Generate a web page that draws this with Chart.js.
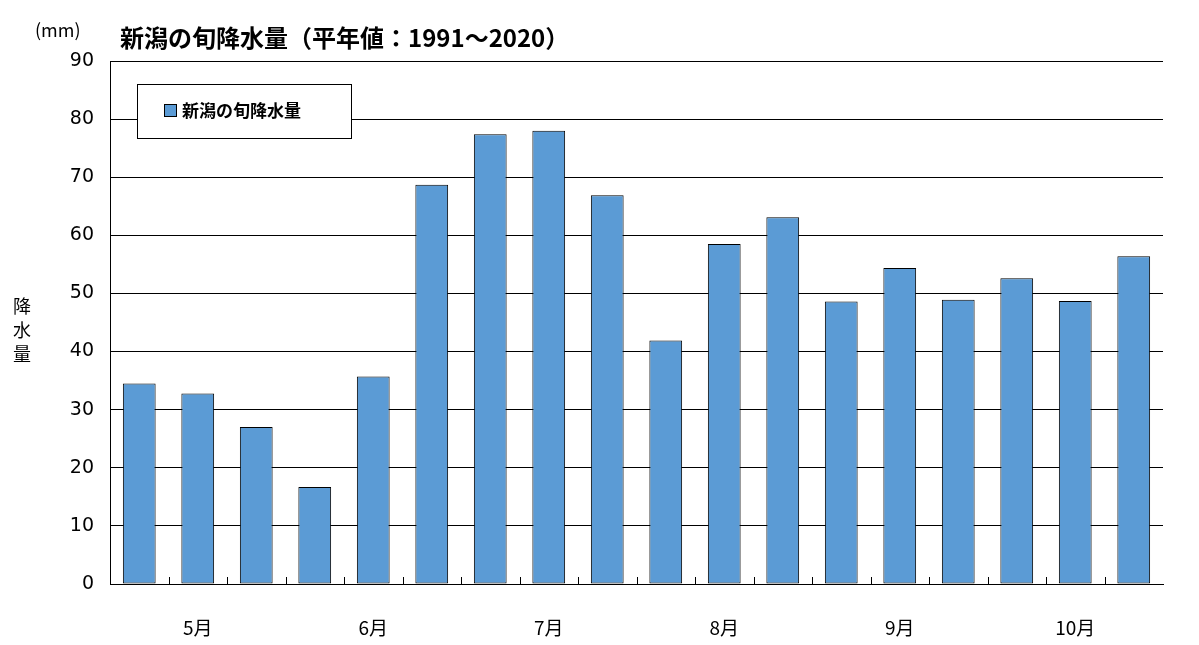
<!DOCTYPE html>
<html lang="ja">
  <head>
    <meta charset="UTF-8" />
    <title>新潟の旬降水量</title>
    <script src="https://cdn.jsdelivr.net/npm/chart.js"></script>
    <style>
      body { margin: 0; background: #fff; }
      #wrap { width: 1199px; height: 645px; position: relative; }
    </style>
  </head>
  <body>
    <div id="wrap"><canvas id="grafico"></canvas></div>
    <script>
      const junLabels = ["", "5月", "", "", "6月", "", "", "7月", "", "", "8月", "", "", "9月", "", "", "10月", ""]
      const kousui = [34.5, 32.8, 27.0, 16.7, 35.7, 68.7, 77.4, 78.0, 66.9, 41.9, 58.5, 63.1, 48.6, 54.4, 48.9, 52.6, 48.7, 56.4]
      const seriesName = "新潟の旬降水量"
      const titulo = "新潟の旬降水量（平年値：1991～2020）"

      const jp = '"Noto Sans CJK JP", sans-serif'

      // textos fora da area do grafico + legenda desenhada a mao
      const extras = {
        id: "extras",
        afterDraw(chart) {
          const c = chart.ctx
          const x = chart.scales.x
          const base = chart.chartArea.bottom
          c.save()
          // marcas pequenas entre as barras, para dentro
          c.strokeStyle = "#000"
          c.lineWidth = 1
          const passo = x.getPixelForValue(1) - x.getPixelForValue(0)
          for (let i = 0; i < junLabels.length - 1; i++) {
            const px = Math.round(x.getPixelForValue(i) + passo / 2) + 0.5
            c.beginPath()
            c.moveTo(px, base)
            c.lineTo(px, base - 7)
            c.stroke()
          }
          c.fillStyle = "#000"
          c.textBaseline = "middle"
          c.font = "bold 24px " + jp
          c.fillText(titulo, 120, 38)
          c.font = "18px " + jp
          c.fillText("(mm)", 35, 30)
          ;["降", "水", "量"].forEach((ch, i) => c.fillText(ch, 13, 306 + i * 24))
          // legenda
          c.fillStyle = "#fff"
          c.fillRect(137, 84, 214, 54)
          c.strokeRect(137.5, 84.5, 214, 54)
          c.fillStyle = "#5b9bd5"
          c.fillRect(164, 104, 12, 12)
          c.strokeRect(164.5, 104.5, 12, 12)
          c.fillStyle = "#000"
          c.font = "bold 17px " + jp
          c.fillText(chart.data.datasets[0].label, 182, 111)
          c.restore()
        },
      }

      new Chart(document.getElementById("grafico"), {
        type: "bar",
        data: {
          labels: junLabels,
          datasets: [
            {
              label: seriesName,
              data: kousui,
              backgroundColor: "#5b9bd5",
              borderColor: "#000",
              borderWidth: 1,
              borderSkipped: false,
              categoryPercentage: 1,
              barPercentage: 0.56,
            },
          ],
        },
        options: {
          responsive: true,
          maintainAspectRatio: false,
          animation: false,
          layout: { padding: { left: 0, right: 36, top: 61, bottom: 0 } },
          plugins: { legend: { display: false }, tooltip: { enabled: false } },
          scales: {
            x: {
              afterFit: (s) => { s.height = 61 },
              grid: { display: false },
              border: { color: "#000" },
              ticks: { autoSkip: false, maxRotation: 0, color: "#000", font: { size: 19, family: jp }, padding: 24 },
            },
            y: {
              min: 0,
              max: 90,
              afterFit: (s) => { s.width = 110 },
              grid: { color: "#000", tickLength: 0 },
              border: { color: "#000" },
              ticks: { stepSize: 10, color: "#000", font: { size: 19, family: "DejaVu Sans" }, padding: 16 },
            },
          },
        },
        plugins: [extras],
      })
    </script>
  </body>
</html>
